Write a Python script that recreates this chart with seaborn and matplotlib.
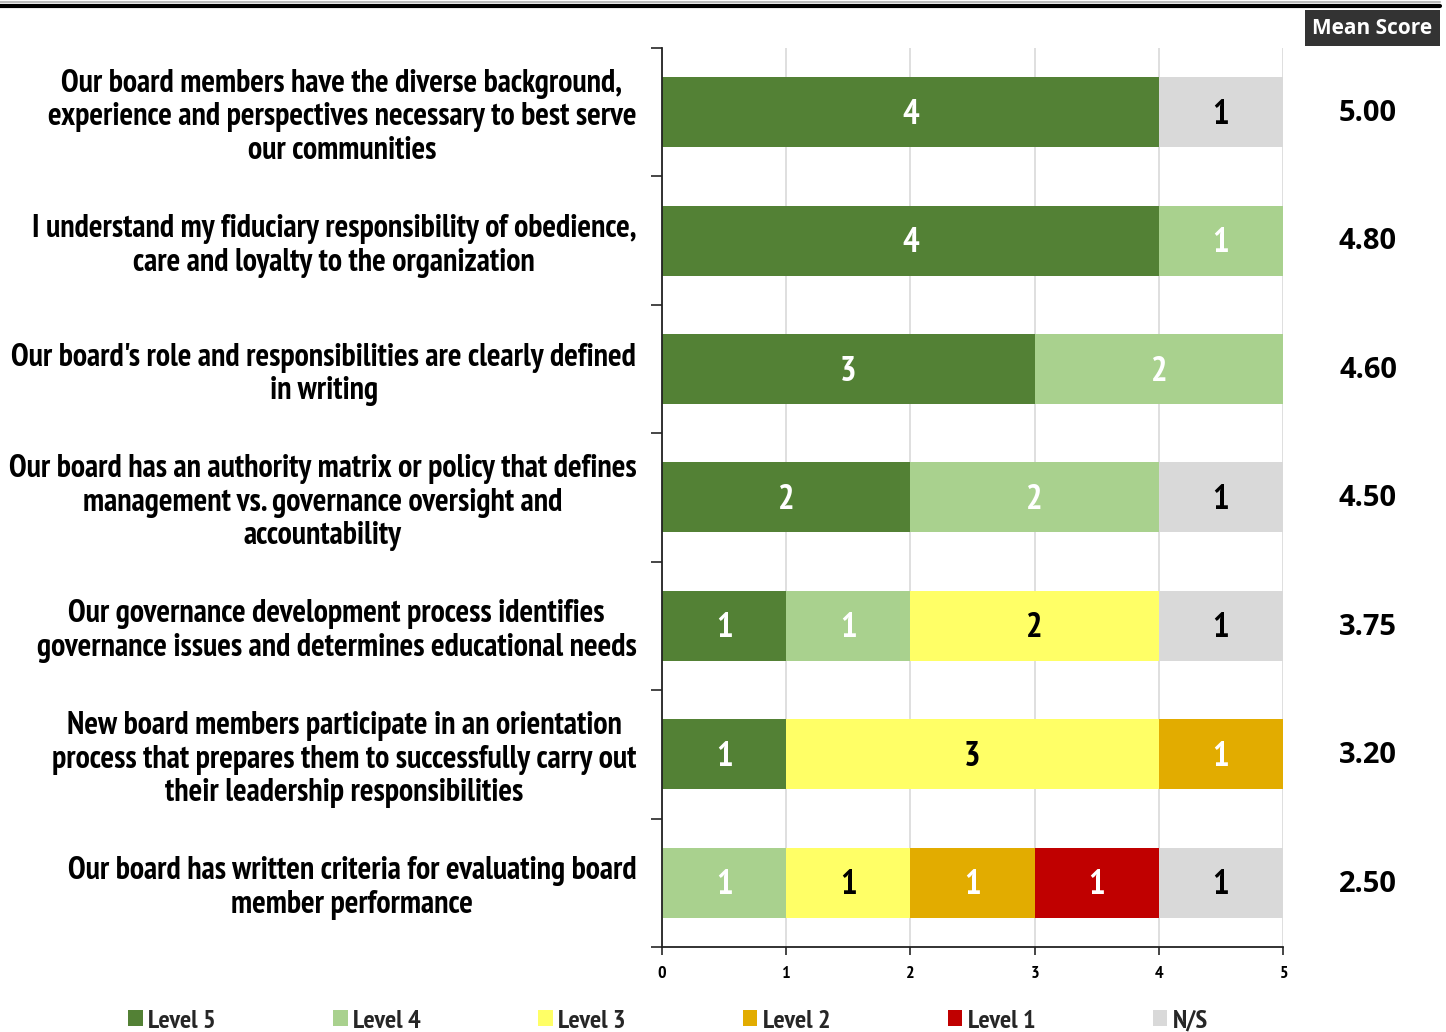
import matplotlib
matplotlib.use("Agg")
import matplotlib.pyplot as plt
from matplotlib.patches import Patch, Rectangle
from matplotlib.lines import Line2D
import matplotlib.transforms as mtransforms
import numpy as np
import pandas as pd
import seaborn as sns

questions = [
    "Our board members have the diverse background,\nexperience and perspectives necessary to best serve\nour communities",
    "I understand my fiduciary responsibility of obedience,\ncare and loyalty to the organization",
    "Our board's role and responsibilities are clearly defined\nin writing",
    "Our board has an authority matrix or policy that defines\nmanagement vs. governance oversight and\naccountability",
    "Our governance development process identifies\ngovernance issues and determines educational needs",
    "New board members participate in an orientation\nprocess that prepares them to successfully carry out\ntheir leadership responsibilities",
    "Our board has written criteria for evaluating board\nmember performance",
]
levels = ["Level 5", "Level 4", "Level 3", "Level 2", "Level 1", "N/S"]
level5 = [4, 4, 3, 2, 1, 1, 0]
level4 = [0, 1, 2, 2, 1, 0, 1]
level3 = [0, 0, 0, 0, 2, 3, 1]
level2 = [0, 0, 0, 0, 0, 1, 1]
level1 = [0, 0, 0, 0, 0, 0, 1]
not_sure = [1, 0, 0, 1, 1, 0, 1]
mean_scores = [5.00, 4.80, 4.60, 4.50, 3.75, 3.20, 2.50]

colors = ["#538135", "#A9D18E", "#FFFF66", "#E2AC00", "#C00000", "#D9D9D9"]
label_colors = ["white", "white", "black", "white", "white", "black"]

counts = pd.DataFrame(
    {"Level 5": level5, "Level 4": level4, "Level 3": level3,
     "Level 2": level2, "Level 1": level1, "N/S": not_sure},
    index=questions,
)
cumulative = counts.cumsum(axis=1)

narrow = ["PT Sans Narrow", "DejaVu Sans"]
wide = ["Open Sans", "DejaVu Sans"]
sns.set_theme(style="white")
plt.rcParams["font.family"] = narrow

fig = plt.figure(figsize=(14.46, 10.32), dpi=100)
ax = fig.add_axes([0.4578, 0.0824, 0.4295, 0.8711])

# stacked bars: draw the widest cumulative layer first, narrower ones on top
for lvl, col in reversed(list(zip(levels, colors))):
    df = pd.DataFrame({"question": questions, "value": cumulative[lvl].values})
    sns.barplot(data=df, x="value", y="question", orient="h", color=col,
                width=0.545, linewidth=0, saturation=1, ax=ax, zorder=2)

# segment count labels
for i, q in enumerate(questions):
    left = 0
    for lvl, tc in zip(levels, label_colors):
        v = counts.loc[q, lvl]
        if v > 0:
            ax.text(left + v / 2, i + 0.02, f"{v}", ha="center", va="center",
                    fontsize=25, fontweight="bold", color=tc, zorder=5)
        left += v

ax.set_xlim(0, 5)
ax.set_ylim(6.5, -0.5)
ax.set_xlabel("")
ax.set_ylabel("")
ax.set_xticks(range(6))
ax.set_xticklabels([str(i) for i in range(6)], fontsize=13, fontweight="bold")
ax.set_yticks(np.arange(-0.5, 7, 1), minor=False)
ax.set_yticklabels([])
ax.set_yticks(range(7), minor=True)
ax.set_yticklabels(questions, minor=True, fontsize=23, fontweight="bold",
                   multialignment="center", linespacing=1.15, color="black")
ax.tick_params(axis="y", which="minor", length=0, pad=18.5)
ax.tick_params(axis="y", which="major", length=8, width=1.2, direction="out", left=True)
ax.tick_params(axis="x", length=6, width=1.2, direction="out", bottom=True, pad=8,
               labelcolor="black")
ax.grid(axis="x", color="#D9D9D9", linewidth=1.2, zorder=0)
ax.set_axisbelow(True)
for s in ["top", "right"]:
    ax.spines[s].set_visible(False)
for s in ["left", "bottom"]:
    ax.spines[s].set_color("#222222")
    ax.spines[s].set_linewidth(1.3)

# mean score column
trans = mtransforms.blended_transform_factory(fig.transFigure, ax.transData)
for i, m in enumerate(mean_scores):
    ax.text(1368 / 1446, i + 0.01, f"{m:.2f}", transform=trans, ha="center", va="center",
            fontsize=21, fontweight="bold", family=wide,
            color="black", clip_on=False)

fig.add_artist(Rectangle((1305 / 1446, 1 - 46 / 1032), 135 / 1446, 36 / 1032,
                         transform=fig.transFigure, facecolor="#333333",
                         edgecolor="none"))
fig.text(1372 / 1446, 1 - 29 / 1032, "Mean Score", ha="center", va="center",
         fontsize=15, fontweight="bold", color="white", family=wide)

# top rule
fig.add_artist(Line2D([0, 1440 / 1446], [1 - 1.5 / 1032, 1 - 1.5 / 1032],
                      transform=fig.transFigure, color="#BBBBBB", linewidth=1.5))
fig.add_artist(Line2D([0, 1440 / 1446], [1 - 6 / 1032, 1 - 6 / 1032],
                      transform=fig.transFigure, color="black", linewidth=3))

handles = [Patch(facecolor=c, edgecolor="none", label=l) for l, c in zip(levels, colors)]
fig.legend(handles=handles, loc="center", bbox_to_anchor=(668 / 1446, 1 - 1021 / 1032),
           ncol=6, frameon=False,
           prop={"weight": "bold", "size": 19, "family": narrow},
           handlelength=0.55, handleheight=0.55, handletextpad=0.2,
           columnspacing=4.45, borderaxespad=0)

fig.savefig("out.png", dpi=100)
